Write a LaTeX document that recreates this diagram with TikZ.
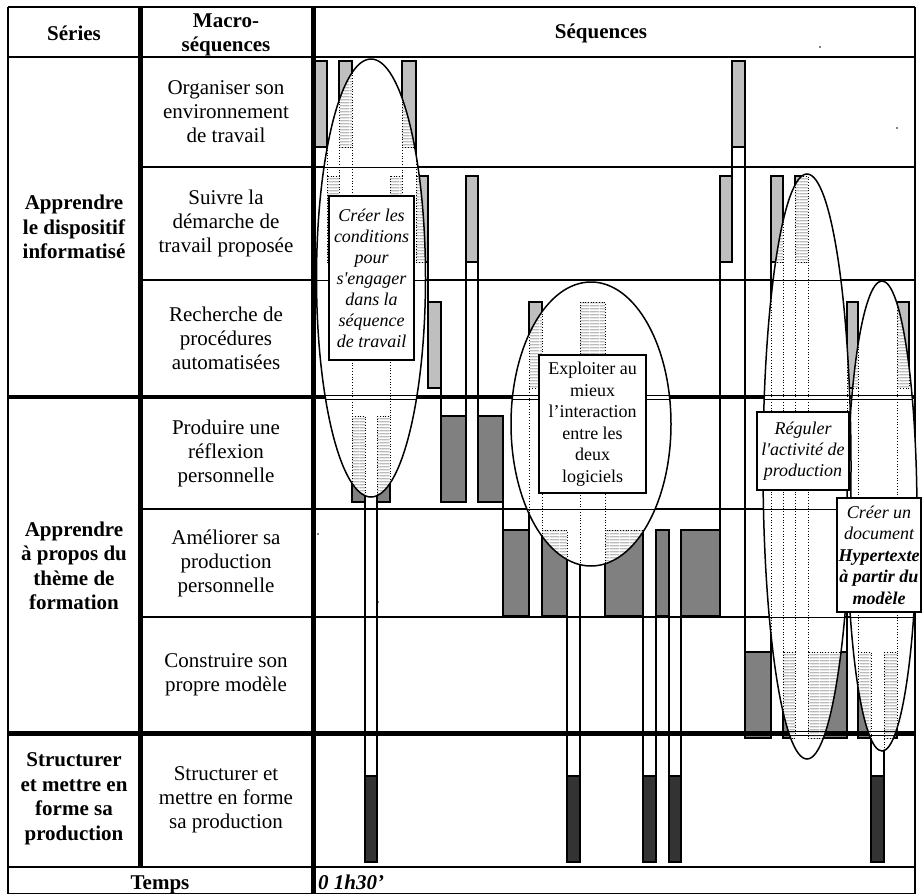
\documentclass[tikz,border=0pt]{standalone}
\usepackage{fontspec}
\setmainfont{Liberation Serif}
\usetikzlibrary{patterns}
\pgfdeclarepatternformonly{hatchlines}{\pgfpointorigin}{\pgfqpoint{10pt}{2.6pt}}{\pgfqpoint{10pt}{2.6pt}}{%
  \pgfsetlinewidth{0.5pt}\pgfpathmoveto{\pgfqpoint{0pt}{1.3pt}}\pgfpathlineto{\pgfqpoint{10pt}{1.3pt}}\pgfusepath{stroke}}
\definecolor{lightbar}{gray}{0.75}
\definecolor{midbar}{gray}{0.5}
\definecolor{darkbar}{gray}{0.2}
\newcommand{\barlist}{314/327/61/lightbar,327/339/176/lightbar,339/352/61/lightbar,352/365/416/midbar,365/377/776/darkbar,377/390/416/midbar,390/402/176/lightbar,402/416/61/lightbar,416/428/176/lightbar,428/441/302/lightbar,441/466/416/midbar,466/478/176/lightbar,478/503/416/midbar,503/529/530/midbar,529/542/302/lightbar,542/567/530/midbar,567/580/776/darkbar,580/605/302/lightbar,605/643/530/midbar,643/656/776/darkbar,656/669/530/midbar,669/681/776/darkbar,681/720/530/midbar,720/732/176/lightbar,732/745/61/lightbar,745/771/652/midbar,771/783/176/lightbar,783/795/652/midbar,795/808/176/lightbar,808/847/652/midbar,847/858/302/lightbar,858/871/652/midbar,871/884/776/darkbar,884/897/652/midbar,897/909/302/lightbar}
\newcommand{\connlist}{327/147/176,339/176/147,352/147/416,365/502/776,377/776/502,390/416/262,402/176/147,416/147/176,428/262/302,441/388/416,466/416/262,478/262/416,503/502/530,529/530/388,542/388/530,567/616/776,580/776/388,605/388/530,643/616/776,656/776/616,669/616/776,681/776/616,720/530/262,732/176/147,745/147/652,771/652/262,783/262/652,795/652/262,808/262/652,847/652/388,858/388/652,871/738/776,884/776/738,897/652/388}
\newcommand{\ghostcontent}{%
  \foreach \yy in {167,280,509,617,867} \draw[line width=0.6pt] (300,\yy) -- (915,\yy);
  \foreach \yy in {397,733} {\draw[line width=0.6pt] (300,\yy-2) -- (915,\yy-2);
    \draw[line width=0.6pt] (300,\yy+2) -- (915,\yy+2);}
  \foreach \a/\b/\t/\c in \barlist
    \draw[dotted, line width=0.7pt, pattern=hatchlines, pattern color=black!75] (\a,\t) rectangle (\b,\t+86);
  \foreach \x/\ya/\yb in \connlist \draw[dotted, line width=0.8pt] (\x,\ya) -- (\x,\yb);
}
\begin{document}
\begin{tikzpicture}[x=1pt,y=-1pt,
  cell/.style={font=\fontsize{21}{24}\selectfont, align=center, inner sep=0pt},
  serie/.style={font=\fontsize{21}{24.5}\selectfont\bfseries, align=center, inner sep=0pt},
  boxlabel/.style={draw, line width=1.5pt, fill=white, align=center, inner sep=0pt, font=\fontsize{18}{21.5}\selectfont},
  thinrule/.style={line width=1.5pt},
  thickrule/.style={line width=4.5pt},
  barbox/.style={draw, line width=1.2pt},
  conn/.style={line width=1.2pt},
  ellipseline/.style={line width=1.5pt}]
\useasboundingbox (0,0) rectangle (924,895);
\fill[white] (0,0) rectangle (924,895);
% bars
\foreach \a/\b/\t/\c in \barlist \filldraw[barbox, fill=\c] (\a,\t) rectangle (\b,\t+86);
% grid
\draw[thinrule] (8,7) -- (915,7);
\draw[thinrule] (8,7) -- (8,894);
\draw[thinrule] (915,7) -- (915,894);
\draw[thinrule] (8,893.5) -- (915,893.5);
\draw[thinrule] (8,57) -- (915,57);
\foreach \yy in {167,280,509,617} \draw[thinrule] (140,\yy) -- (915,\yy);
\draw[thinrule] (8,867) -- (915,867);
\draw[thickrule] (8,397) -- (915,397);
\draw[thickrule] (8,733.5) -- (915,733.5);
\draw[thickrule] (140.5,7) -- (140.5,867);
\draw[thickrule] (313.5,7) -- (313.5,894);
% connectors
\foreach \x/\ya/\yb in \connlist \draw[conn] (\x,\ya) -- (\x,\yb);
% stray dots
\fill (820,47) circle (0.9pt);
\fill (897,128) circle (0.9pt);
\fill (318,534) circle (0.9pt);
\fill (378,602) circle (0.9pt);
% ellipses
\fill[white] (371,278) ellipse [x radius=54.5pt, y radius=219pt];
\fill[white] (591,424) ellipse [x radius=80pt, y radius=142pt];
\fill[white] (807,466.5) ellipse [x radius=44pt, y radius=292.5pt];
\fill[white] (882,516) ellipse [x radius=35pt, y radius=235pt];
\begin{scope}\clip (371,278) ellipse [x radius=54.5pt, y radius=219pt]; \ghostcontent \end{scope}
\begin{scope}\clip (591,424) ellipse [x radius=80pt, y radius=142pt]; \ghostcontent \end{scope}
\begin{scope}\clip (807,466.5) ellipse [x radius=44pt, y radius=292.5pt]; \ghostcontent \end{scope}
\begin{scope}\clip (882,516) ellipse [x radius=35pt, y radius=235pt]; \ghostcontent \end{scope}
\draw[ellipseline] (371,278) ellipse [x radius=54.5pt, y radius=219pt];
\draw[ellipseline] (591,424) ellipse [x radius=80pt, y radius=142pt];
\draw[ellipseline] (807,466.5) ellipse [x radius=44pt, y radius=292.5pt];
\draw[ellipseline] (882,516) ellipse [x radius=35pt, y radius=235pt];
% text boxes
\node[boxlabel, minimum width=85pt, minimum height=164pt, font=\fontsize{18}{21}\selectfont\itshape] (b1) at (371.5,278)
  {Créer les\\conditions\\pour\\s\textquotesingle engager\\dans la\\séquence\\de travail};
\node[boxlabel, minimum width=107pt, minimum height=138pt] (b2) at (592.5,424)
  {Exploiter au\\mieux\\l’interaction\\entre les\\deux\\logiciels};
\node[boxlabel, minimum width=92pt, minimum height=78pt, font=\fontsize{18}{21}\selectfont\itshape] (b3) at (803,451)
  {Réguler\\l\textquotesingle activité de\\production};
\node[boxlabel, minimum width=84pt, minimum height=114pt, font=\fontsize{18}{21.5}\selectfont\itshape] (b4) at (879,555)
  {Créer un\\document\\\textbf{Hypertexte}\\\textbf{à partir du}\\\textbf{modèle}};
% headers
\node[serie] (hs) at (74,33) {Séries};
\node[serie] (hm) at (226,35) {Macro-\\séquences};
\node[serie] (hq) at (601,33) {Séquences};
\node[serie, anchor=base] (ht) at (160,889) {Temps};
\node[serie, anchor=base west, font=\fontsize{21}{24}\selectfont\bfseries\itshape] (tt) at (318,889) {0 1h30’};
% series
\node[serie] (s1) at (74,227) {Apprendre\\le dispositif\\informatisé};
\node[serie] (s2) at (74,566) {Apprendre\\à propos du\\thème de\\formation};
\node[serie] (s3) at (74,799) {Structurer\\et mettre en\\forme sa\\production};
% macro-sequences
\node[cell] (m1) at (226,112) {Organiser son\\environnement\\de travail};
\node[cell] (m2) at (226,223) {Suivre la\\démarche de\\travail proposée};
\node[cell] (m3) at (226,338) {Recherche de\\procédures\\automatisées};
\node[cell] (m4) at (226,453) {Produire une\\réflexion\\personnelle};
\node[cell] (m5) at (226,563) {Améliorer sa\\production\\personnelle};
\node[cell] (m6) at (226,675) {Construire son\\propre modèle};
\node[cell] (m7) at (226,800) {Structurer et\\mettre en forme\\sa production};
\end{tikzpicture}
\end{document}
